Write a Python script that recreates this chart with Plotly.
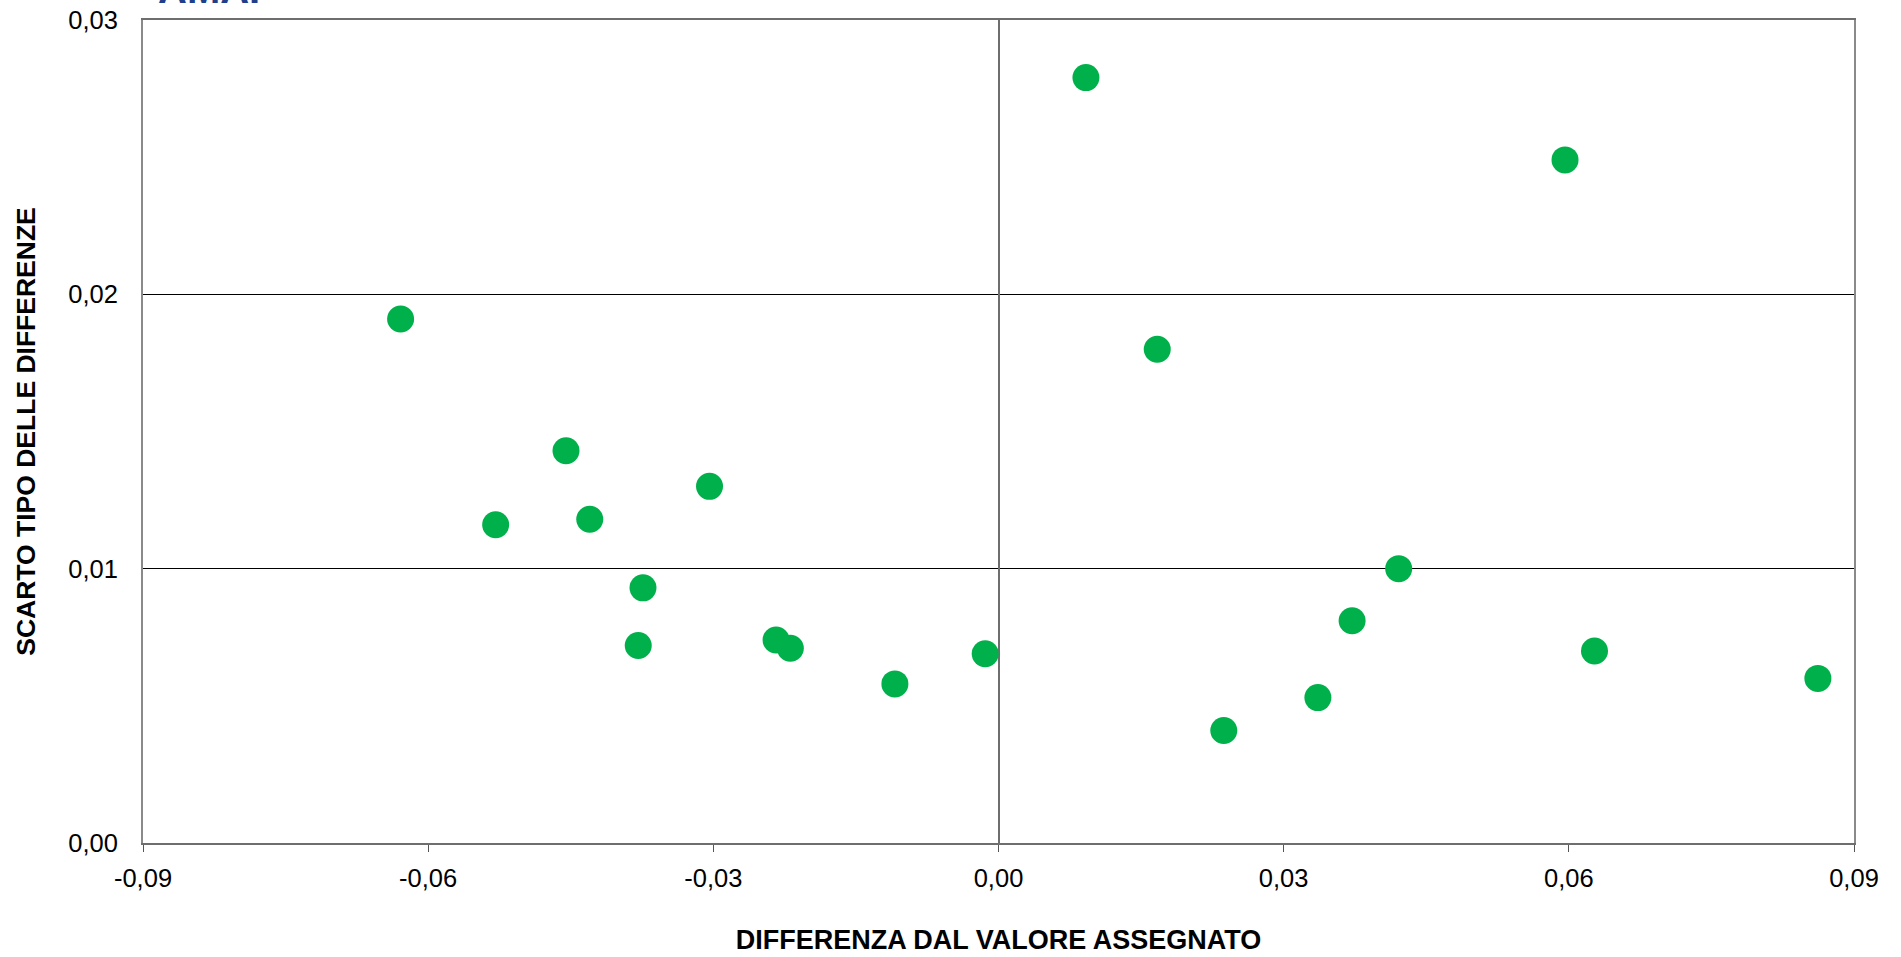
import plotly.graph_objects as go

# Data
diff_values = [-0.0629, -0.0529, -0.0455, -0.0430, -0.0374, -0.0379, -0.0304,
               -0.0234, -0.0219, -0.0109, -0.0014, 0.0092, 0.0167, 0.0237,
               0.0336, 0.0372, 0.0421, 0.0596, 0.0627, 0.0862]
sd_values = [0.0191, 0.0116, 0.0143, 0.0118, 0.0093, 0.0072, 0.0130,
             0.0074, 0.0071, 0.0058, 0.0069, 0.0279, 0.0180, 0.0041,
             0.0053, 0.0081, 0.0100, 0.0249, 0.0070, 0.0060]

x_ticks = [-0.09, -0.06, -0.03, 0.0, 0.03, 0.06, 0.09]
x_ticklabels = ["-0,09", "-0,06", "-0,03", "0,00", "0,03", "0,06", "0,09"]
y_ticks = [0.0, 0.01, 0.02, 0.03]
y_ticklabels = ["0,00", "0,01", "0,02", "0,03"]

x_title = "DIFFERENZA DAL VALORE ASSEGNATO"
y_title = "SCARTO TIPO DELLE DIFFERENZE"
logo_text = "AMAP"

FONT = "Liberation Sans, Arial, sans-serif"

fig = go.Figure()
fig.add_trace(go.Scatter(
    x=diff_values, y=sd_values, mode="markers",
    marker=dict(size=27, color="#00B04A", line=dict(width=0)),
    showlegend=False, hoverinfo="x+y",
))

fig.update_layout(
    width=1901, height=957,
    margin=dict(l=143, r=47, t=20, b=114, autoexpand=False),
    paper_bgcolor="white", plot_bgcolor="white",
    font=dict(family=FONT, size=25, color="black"),
    xaxis=dict(
        range=[-0.09, 0.09], tickvals=x_ticks, ticktext=x_ticklabels,
        automargin=False,
        showgrid=False, zeroline=True, zerolinecolor="#6e6e6e", zerolinewidth=1.5,
        showline=True, linecolor="#6e6e6e", linewidth=2, mirror=True,
        ticks="outside", ticklen=7, tickcolor="#555555", tickwidth=1,
        ticklabelstandoff=4,
        tickfont=dict(family=FONT, size=25.5, color="black"),
        title=dict(text=x_title, font=dict(family=FONT, size=27, color="black", weight="bold"),
                   standoff=40),
        fixedrange=True,
    ),
    yaxis=dict(
        range=[0, 0.03], tickvals=y_ticks, ticktext=y_ticklabels,
        automargin=False,
        showgrid=True, gridcolor="#000000", gridwidth=1,
        zeroline=False,
        showline=True, linecolor="#8a8a8a", linewidth=2, mirror=True,
        ticks="", ticklen=0,
        ticklabelstandoff=18,
        tickfont=dict(family=FONT, size=25.5, color="black"),
        title=dict(text=y_title, font=dict(family=FONT, size=26.5, color="black", weight="bold"),
                   standoff=25),
        fixedrange=True,
    ),
)

# partially visible logo text at the very top (cut by the page edge)
fig.add_annotation(
    text="<b>" + logo_text + "</b>", xref="paper", yref="paper",
    x=(156 - 143) / 1711, y=1 + (20 - 13) / 823,
    xanchor="left", yanchor="bottom", showarrow=False,
    font=dict(family=FONT, size=40, color="#1F3E8C"),
)

fig.write_html("out.html", config={"displayModeBar": False},
               post_script="document.body.style.margin='0';")
